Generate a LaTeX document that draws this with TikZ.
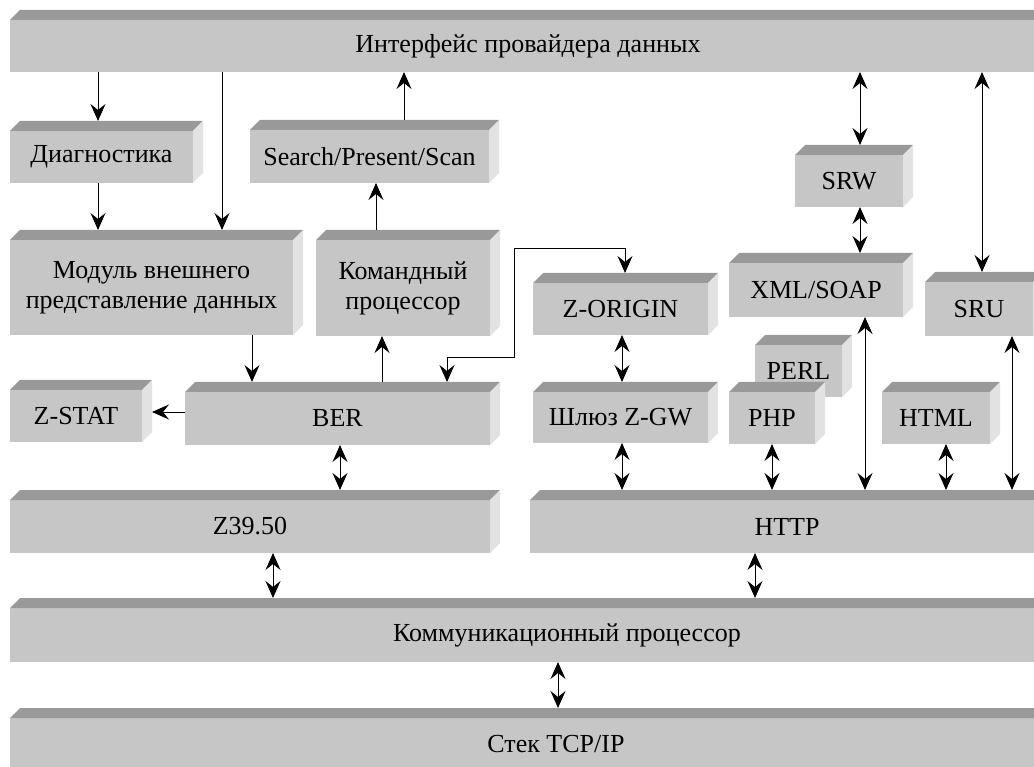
\documentclass[tikz,border=0pt]{standalone}
\usepackage{fontspec}
\setmainfont{Liberation Serif}
\usetikzlibrary{arrows.meta}

\definecolor{frontgray}{HTML}{C6C6C6}
\definecolor{topgray}{HTML}{999999}
\definecolor{sidegray}{HTML}{E2E2E2}

\begin{document}
\begin{tikzpicture}[x=1pt,y=-1pt,line width=1pt,
  >={Stealth[length=17pt,width=15pt,inset=6pt]},
  block/.style={fill=frontgray,inner sep=0pt,outer sep=0pt,align=center,
    font=\fontsize{26}{30}\selectfont}]

  \useasboundingbox (0,0) rectangle (1034,767);

  \node[block,minimum width=1036,minimum height=52] (idp)   at (528,46)      {Интерфейс провайдера данных};
  \node[block,minimum width=183,minimum height=52]  (diag)  at (101.5,157)   {Диагностика};
  \node[block,minimum width=239,minimum height=53]  (sps)   at (369.5,156.5) {Search/Present/Scan};
  \node[block,minimum width=283,minimum height=95]  (modul) at (151.5,287.5) {Модуль внешнего\\представление данных};
  \node[block,minimum width=174,minimum height=96]  (cmd)   at (403,288)     {Командный\\процессор};
  \node[block,minimum width=132,minimum height=52]  (zstat) at (76,416)      {Z-STAT};
  \node[block,minimum width=305,minimum height=53]  (ber)   at (337.5,418.5) {BER};
  \node[block,minimum width=480,minimum height=53]  (z3950) at (250,526.5)   {Z39.50};
  \node[block,minimum width=175,minimum height=52]  (zorig) at (620.5,309)   {Z-ORIGIN};
  \node[block,minimum width=175,minimum height=51]  (gw)    at (620.5,417.5) {Шлюз Z-GW};
  \node[block,minimum width=108,minimum height=52]  (srw)   at (849,181)     {SRW};
  \node[block,minimum width=174,minimum height=54]  (xml)   at (816,290)     {XML/SOAP};
  \node[block,minimum width=108,minimum height=54]  (sru)   at (979,309)     {SRU};
  \node[block,minimum width=87,minimum height=52]   (perl)  at (798.5,371)   {PERL};
  \node[block,minimum width=86,minimum height=52]   (php)   at (772,418)     {PHP};
  \node[block,minimum width=108,minimum height=52]  (html)  at (936,418)     {HTML};
  \node[block,minimum width=514,minimum height=53]  (http)  at (787,526.5)   {HTTP};
  \node[block,minimum width=1114,minimum height=54] (komm)  at (567,635)     {Коммуникационный процессор};
  \node[block,minimum width=1092,minimum height=52] (stek)  at (556,744)     {Стек TCP/IP};

  % top and side faces
  \foreach \n in {idp,diag,sps,modul,cmd,zstat,ber,z3950,zorig,gw,srw,xml,sru,perl,php,html,http,komm,stek}{
    \fill[topgray] (\n.north west) -- ++(10,-10) -- ([shift={(10,-10)}]\n.north east) -- (\n.north east) -- cycle;
    \fill[sidegray] (\n.north east) -- ++(10,-10) -- ([shift={(10,-10)}]\n.south east) -- (\n.south east) -- cycle;
  }

  % one-way links
  \draw[->] (98,0 |- idp.south) -- ([yshift=10pt]98,0 |- diag.north);
  \draw[->] (222,0 |- idp.south) -- ([yshift=10pt]222,0 |- modul.north);
  \draw[->] (98,0 |- diag.south) -- ([yshift=10pt]98,0 |- modul.north);
  \draw[->] ([yshift=10pt]404,0 |- sps.north) -- (404,0 |- idp.south);
  \draw[->] ([yshift=10pt]376,0 |- cmd.north) -- (376,0 |- sps.south);
  \draw[->] (252,0 |- modul.south) -- ([yshift=10pt]252,0 |- ber.north);
  \draw[->] ([yshift=10pt]382,0 |- ber.north) -- (382,0 |- cmd.south);
  \draw[->] (ber.west |- 0,412) -- ([xshift=10pt]zstat.east |- 0,412);

  % two-way links
  \draw[<->] ([yshift=10pt]447,0 |- ber.north) |- (514,358) |- (625,249) -- ([yshift=10pt]625,0 |- zorig.north);
  \draw[<->] (340,0 |- ber.south) -- ([yshift=10pt]340,0 |- z3950.north);
  \draw[<->] (273,0 |- z3950.south) -- ([yshift=10pt]273,0 |- komm.north);
  \draw[<->] (622,0 |- zorig.south) -- ([yshift=10pt]622,0 |- gw.north);
  \draw[<->] (622,0 |- gw.south) -- ([yshift=10pt]622,0 |- http.north);
  \draw[<->] (772,0 |- php.south) -- ([yshift=10pt]772,0 |- http.north);
  \draw[<->] (865,0 |- xml.south) -- ([yshift=10pt]865,0 |- http.north);
  \draw[<->] (946,0 |- html.south) -- ([yshift=10pt]946,0 |- http.north);
  \draw[<->] (1012,0 |- sru.south) -- ([yshift=10pt]1012,0 |- http.north);
  \draw[<->] (860,0 |- idp.south) -- ([yshift=10pt]860,0 |- srw.north);
  \draw[<->] (860,0 |- srw.south) -- ([yshift=10pt]860,0 |- xml.north);
  \draw[<->] (982,0 |- idp.south) -- ([yshift=10pt]982,0 |- sru.north);
  \draw[<->] (755,0 |- http.south) -- ([yshift=10pt]755,0 |- komm.north);
  \draw[<->] (558,0 |- komm.south) -- ([yshift=10pt]558,0 |- stek.north);
\end{tikzpicture}
\end{document}
